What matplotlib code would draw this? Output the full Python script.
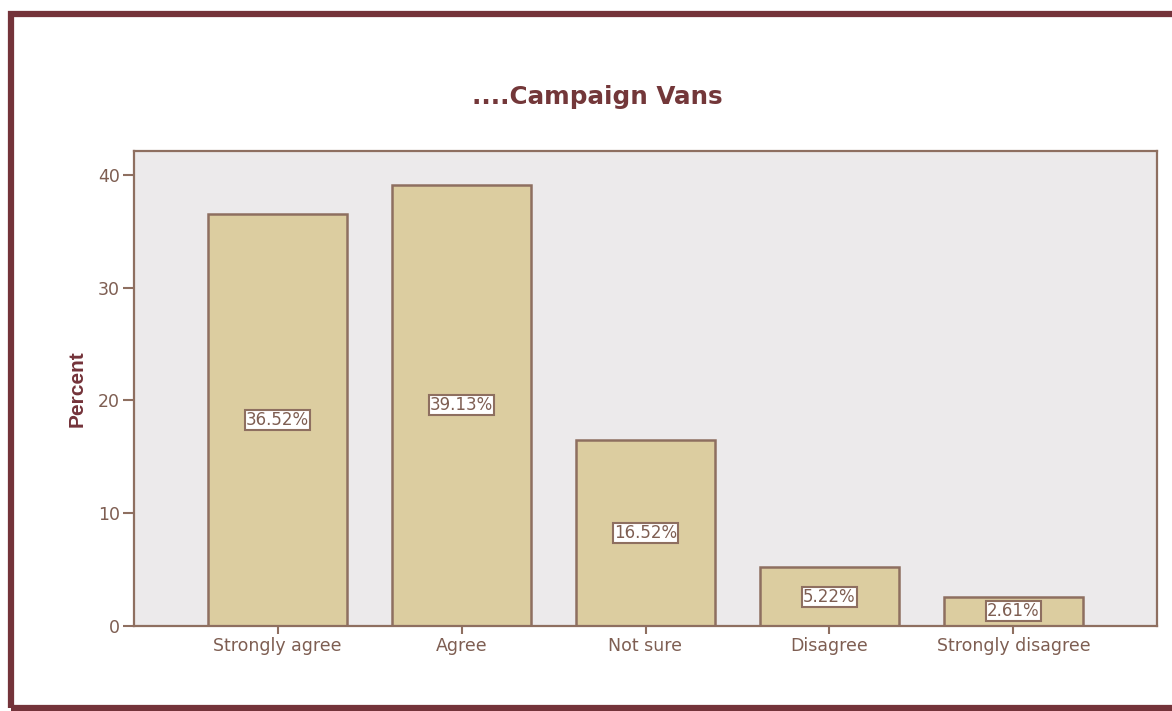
import matplotlib.pyplot as plt
from matplotlib.patches import Rectangle

categories = ["Strongly agree", "Agree", "Not sure", "Disagree", "Strongly disagree"]
percents = [36.52, 39.13, 16.52, 5.22, 2.61]
yticks = [0, 10, 20, 30, 40]

plt.rcParams['font.family'] = ['DejaVu Sans']

barColor = '#DCCDA0'
edgeColor = '#8E6F60'
textColor = '#7E5E52'
darkRed = '#74333A'

fig = plt.figure(figsize=(11.72, 7.11), dpi=100)
ax = fig.add_axes([134 / 1172, 1 - 626 / 711, (1157 - 134) / 1172, (626 - 151) / 711])
ax.set_facecolor('#ECEAEB')

xs = range(len(categories))
ax.bar(xs, percents, width=0.76, color=barColor, edgecolor=edgeColor, linewidth=1.8)

# value labels sit halfway up each bar
for x, p in zip(xs, percents):
    ax.text(x, p / 2, f"{p:.2f}%", ha='center', va='center', fontsize=12, color=textColor,
            bbox=dict(boxstyle='square,pad=0.06', facecolor='white', edgecolor=edgeColor, linewidth=1.5))

ax.set_xlim(-0.78, 4.78)
ax.set_ylim(0, 42.1)
ax.set_yticks(yticks)
ax.set_xticks(list(xs))
ax.set_xticklabels(categories)
ax.tick_params(axis='both', colors=edgeColor, labelcolor=textColor, labelsize=12.5, width=1.5)
ax.tick_params(axis='y', length=8, pad=2)
ax.tick_params(axis='x', length=6, pad=2)
for s in ax.spines.values():
    s.set_color(edgeColor)
    s.set_linewidth(1.6)

ax.set_ylabel("Percent", fontsize=15, fontweight='bold', color=darkRed, labelpad=8,
              family='Liberation Sans')
fig.text(597 / 1172, 1 - 97 / 711, "....Campaign Vans", ha='center', va='center',
         fontsize=17.7, fontweight='bold', color='#733739')

# frame around the whole figure, running off the right edge
fig.patches.append(Rectangle((11 / 1172, 3 / 711), 1.2, 1 - 17 / 711,
                             transform=fig.transFigure, fill=False, edgecolor=darkRed,
                             linewidth=4.5, clip_on=False))

fig.savefig("out.png", dpi=100)
